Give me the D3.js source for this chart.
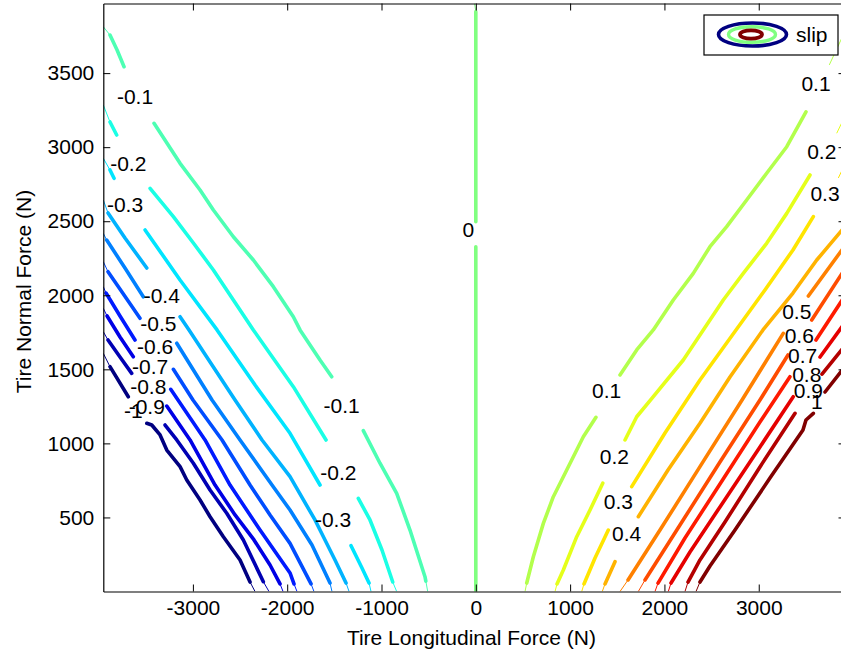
<!DOCTYPE html>
<html>
<head>
<meta charset="utf-8">
<script src="https://cdn.jsdelivr.net/npm/d3@7"></script>
<style>
  body { margin: 0; background: #fff; }
  svg { display: block; font-family: "Liberation Sans", Arial, Helvetica, sans-serif; }
</style>
</head>
<body>
<div id="chart"></div>
<script>
var width = 841, height = 655;

// contour levels of slip and their inline labels
var levels = [-1, -0.9, -0.8, -0.7, -0.6, -0.5, -0.4, -0.3, -0.2, -0.1, 0,
              0.1, 0.2, 0.3, 0.4, 0.5, 0.6, 0.7, 0.8, 0.9, 1];
var levelText = ["-1", "-0.9", "-0.8", "-0.7", "-0.6", "-0.5", "-0.4", "-0.3", "-0.2", "-0.1", "0",
                 "0.1", "0.2", "0.3", "0.4", "0.5", "0.6", "0.7", "0.8", "0.9", "1"];

// [Fx, Fz] in N, one entry per level; null = gap left for a label
var contourLines = [
  [[-3879,1518],[-3685,1315], null, [-3489,1136],[-3436,1124],[-3348,1057],[-3277,955],[-3136,843],[-3065,753],[-2924,618],[-2818,505],[-2677,370],[-2500,213],[-2394,64]],
  [[-3900,1698],[-3773,1583],[-3649,1473], null, [-3295,1124],[-3171,1023],[-2995,866],[-2818,685],[-2641,528],[-2465,348],[-2253,66]],
  [[-3910,1860],[-3773,1718],[-3632,1585], null, [-3277,1252],[-3030,1023],[-2765,719],[-2553,517],[-2352,348],[-2182,179],[-2076,51]],
  [[-3921,2015],[-3773,1860],[-3614,1698], null, [-3235,1365],[-3158,1293],[-2871,1023],[-2606,719],[-2288,415],[-1970,125],[-1928,51]],
  [[-3900,2159],[-3730,2002],[-3561,1845], null, [-3207,1500],[-2999,1293],[-2691,1023],[-2394,719],[-2182,517],[-1970,325],[-1747,51]],
  [[-3914,2373],[-3720,2184],[-3526,1990], null, [-3171,1676],[-2797,1293],[-2500,1023],[-2161,719],[-1970,550],[-1737,314],[-1546,57]],
  [[-3900,2556],[-3720,2387],[-3489,2184], null, [-3136,1855],[-3041,1766],[-2818,1550],[-2553,1293],[-2267,1023],[-1970,775],[-1705,483],[-1493,213],[-1376,57]],
  [[-3879,2846],[-3836,2790], null, [-3507,2441],[-3136,2103],[-2744,1766],[-2341,1394],[-1970,1068],[-1652,719], null, [-1323,309],[-1207,159],[-1132,57]],
  [[-3879,3170],[-3808,3082], null, [-3454,2722],[-3207,2531],[-2995,2353],[-2783,2171],[-2571,1968],[-2359,1766],[-2150,1577],[-1935,1383],[-1588,1023], null, [-1246,629],[-1122,483],[-995,280],[-881,64]],
  [[-3879,3757],[-3804,3656],[-3730,3543], null, [-3412,3161],[-3136,2891],[-2924,2711],[-2783,2576],[-2571,2395],[-2359,2238],[-2147,2058],[-1935,1855],[-1864,1766],[-1652,1563],[-1528,1450], null, [-1193,1086],[-1016,866],[-839,663],[-698,415],[-539,100],[-530,70]],
  [[0,0],[0,2328], null, [0,2497],[0,3915]],
  [[3501,3239],[3297,3003],[3084,2824],[2872,2643],[2660,2463],[2483,2328],[2306,2148],[2094,1968],[1882,1766],[1706,1631],[1529,1462], null, [1274,1176],[1140,1045],[964,820],[822,640],[716,460],[610,235],[540,57]],
  [[3544,2812],[3297,2553],[3084,2351],[2836,2148],[2624,1968],[2412,1766],[2200,1563],[1882,1315],[1706,1180],[1582,1023], null, [1346,731],[1211,550],[1070,370],[928,145],[861,51]],
  [[3579,2531],[3363,2306],[3066,2036],[2759,1766],[2377,1428],[2006,1070],[1653,708], null, [1405,415],[1264,226],[1147,51]],
  [[3920,2468],[3615,2238],[3363,2015],[3045,1766],[2695,1448],[2377,1136],[2038,820],[1723,505], null, [1476,201],[1370,51]],
  [[3920,2339],[3526,1995], null, [3260,1743],[2823,1293],[2377,843],[1953,415],[1614,78]],
  [[3920,2184],[3562,1833], null, [3310,1597],[3013,1293],[2589,874],[2165,449],[1794,78]],
  [[3920,2002],[3607,1698], null, [3331,1450],[3013,1144],[2589,726],[2218,361],[1932,57]],
  [[3920,1820],[3650,1583], null, [3366,1315],[3013,976],[2589,571],[2271,267],[2070,57]],
  [[3920,1664],[3671,1468], null, [3385,1203],[3013,841],[2642,469],[2377,213],[2250,64]],
  [[3920,1523],[3703,1347], null, [3579,1203],[3501,1158],[3469,1090],[3119,766],[2748,415],[2483,172],[2377,64]]
];

// short thin pieces where the contours meet the plot edges
var edgeStubs = [
  [[[-3950,1608],[-3879,1518]], [[-2394,64],[-2341,0]]],
  [[[-3950,1754],[-3900,1698]], [[-2253,66],[-2193,0]]],
  [[[-3950,1912],[-3910,1860]], [[-2076,51],[-2044,0]]],
  [[[-3950,2058],[-3921,2015]], [[-1928,51],[-1896,0]]],
  [[[-3950,2227],[-3900,2159]], [[-1747,51],[-1716,0]]],
  [[[-3950,2418],[-3914,2373]], [[-1546,57],[-1525,0]]],
  [[[-3950,2643],[-3900,2556]], [[-1376,57],[-1344,0]]],
  [[[-3950,2925],[-3879,2846]], [[-1132,57],[-1111,0]]],
  [[[-3950,3285],[-3879,3170]], [[-881,64],[-839,0]]],
  [[[-3950,3813],[-3879,3757]], [[-530,70],[-510,0]]],
  [[[0,3915],[-14,3970]]],
  [[[3920,3790],[3748,3555]], [[540,57],[522,0]]],
  [[[3920,3217],[3827,3094]], [[861,51],[840,0]]],
  [[[3920,2893],[3844,2792]], [[1147,51],[1123,0]]],
  [[[1370,51],[1341,0]]],
  [[[1614,78],[1529,0]]],
  [[[1794,78],[1723,0]]],
  [[[1932,57],[1900,0]]],
  [[[2070,57],[2041,0]]],
  [[[2250,64],[2218,0]]],
  [[[2377,64],[2335,0]]]
];

// where each level's label sits
var labelPoints = [
  [[-3632,1225]], [[-3489,1252]], [[-3473,1387]], [[-3454,1518]], [[-3401,1653]],
  [[-3366,1811]], [[-3330,2002]], [[-3720,2610],[-1514,487]], [[-3685,2891],[-1458,802]],
  [[-3614,3341],[-1422,1259]], [[-80,2445]],
  [[3607,3431],[1388,1360]], [[3668,2969],[1469,915]], [[3703,2688],[1511,606]], [[1600,393]],
  [[3403,1889]], [[3430,1732]], [[3466,1597]], [[3509,1468]], [[3526,1360]], [[3615,1281]]
];

var xDomain = [-3950, 3920], yDomain = [0, 3970];
var xTicks = [-3000, -2000, -1000, 0, 1000, 2000, 3000];
var yTicks = [500, 1000, 1500, 2000, 2500, 3000, 3500];

// plot box
var plotLeft = 103.3, plotRight = 845.5, plotTop = 3.5, plotBottom = 591.5;
var fontSize = 21;

var x = d3.scaleLinear().domain(xDomain).range([plotLeft, plotRight]);
var y = d3.scaleLinear().domain(yDomain).range([plotBottom, plotTop]);

// MATLAB jet colormap mapped over [-1, 1]
function jet(v) {
  var t = (v + 1) / 2;
  function c(a) { return Math.round(255 * Math.max(0, Math.min(1, a))); }
  return "rgb(" + c(1.5 - Math.abs(4 * t - 3)) + "," + c(1.5 - Math.abs(4 * t - 2)) + "," + c(1.5 - Math.abs(4 * t - 1)) + ")";
}

var svg = d3.select("#chart").append("svg")
  .attr("width", width).attr("height", height);

svg.append("defs").append("clipPath").attr("id", "plotclip")
  .append("rect").attr("x", plotLeft).attr("y", plotTop)
  .attr("width", plotRight - plotLeft).attr("height", plotBottom - plotTop);

var line = d3.line()
  .defined(function (d) { return d !== null; })
  .x(function (d) { return x(d[0]); })
  .y(function (d) { return y(d[1]); });

var plot = svg.append("g").attr("clip-path", "url(#plotclip)");

levels.forEach(function (lv, i) {
  var col = jet(lv);
  plot.append("path")
    .attr("d", line(contourLines[i]))
    .attr("fill", "none")
    .attr("stroke", col)
    .attr("stroke-width", 3.6)
    .attr("stroke-linejoin", "round")
    .attr("stroke-linecap", "round");
  edgeStubs[i].forEach(function (s) {
    plot.append("path")
      .attr("d", line(s))
      .attr("fill", "none")
      .attr("stroke", col)
      .attr("stroke-width", 1);
  });
});

// contour labels
var lbl = svg.append("g").attr("font-size", fontSize).attr("fill", "#000");
levels.forEach(function (lv, i) {
  labelPoints[i].forEach(function (p) {
    lbl.append("text")
      .attr("x", x(p[0])).attr("y", y(p[1]))
      .attr("text-anchor", "middle")
      .attr("dy", "0.36em")
      .text(levelText[i]);
  });
});

// axes, ticks pointing inward on all four sides
function styleAxis(g) {
  g.attr("font-size", fontSize).attr("font-family", null);
  g.selectAll("path.domain").attr("stroke", "#000").attr("stroke-width", 1.2);
  g.selectAll(".tick line").attr("stroke", "#000");
  g.selectAll(".tick text").attr("fill", "#000");
}

svg.append("g").attr("transform", "translate(0," + plotBottom + ")")
  .call(d3.axisBottom(x).tickValues(xTicks).tickFormat(d3.format("d")).tickSize(-7).tickSizeOuter(0).tickPadding(9))
  .call(styleAxis);
svg.append("g").attr("transform", "translate(0," + plotTop + ")")
  .call(d3.axisTop(x).tickValues(xTicks).tickFormat("").tickSize(-7).tickSizeOuter(0))
  .call(styleAxis);
svg.append("g").attr("transform", "translate(" + plotLeft + ",0)")
  .call(d3.axisLeft(y).tickValues(yTicks).tickFormat(d3.format("d")).tickSize(-7).tickSizeOuter(0).tickPadding(9))
  .call(styleAxis);
svg.append("g").attr("transform", "translate(" + plotRight + ",0)")
  .call(d3.axisRight(y).tickValues(yTicks).tickFormat("").tickSize(-7).tickSizeOuter(0))
  .call(styleAxis);

svg.selectAll(".tick text").filter(function () { return this.textContent.charAt(0) === "\u2212"; })
  .text(function () { return "-" + this.textContent.slice(1); });

// axis titles
svg.append("text")
  .attr("x", (plotLeft + plotRight) / 2 - 3).attr("y", 645)
  .attr("text-anchor", "middle").attr("font-size", fontSize)
  .text("Tire Longitudinal Force (N)");
svg.append("text")
  .attr("transform", "translate(31," + ((plotTop + plotBottom) / 2 - 6) + ") rotate(-90)")
  .attr("text-anchor", "middle").attr("font-size", fontSize)
  .text("Tire Normal Force (N)");

// legend
var lg = svg.append("g");
lg.append("rect").attr("x", 704).attr("y", 15).attr("width", 134).attr("height", 40)
  .attr("fill", "#fff").attr("stroke", "#000").attr("stroke-width", 1.2);
lg.append("ellipse").attr("cx", 752.5).attr("cy", 34.5).attr("rx", 34).attr("ry", 11.5)
  .attr("fill", "none").attr("stroke", jet(-1)).attr("stroke-width", 3.6);
lg.append("ellipse").attr("cx", 752).attr("cy", 34.5).attr("rx", 23.5).attr("ry", 7.8)
  .attr("fill", "none").attr("stroke", jet(0)).attr("stroke-width", 3.4);
lg.append("ellipse").attr("cx", 751).attr("cy", 34.5).attr("rx", 11).attr("ry", 4.2)
  .attr("fill", "none").attr("stroke", jet(1)).attr("stroke-width", 3.8);
lg.append("text").attr("x", 796).attr("y", 42).attr("font-size", fontSize).text("slip");
</script>
</body>
</html>
